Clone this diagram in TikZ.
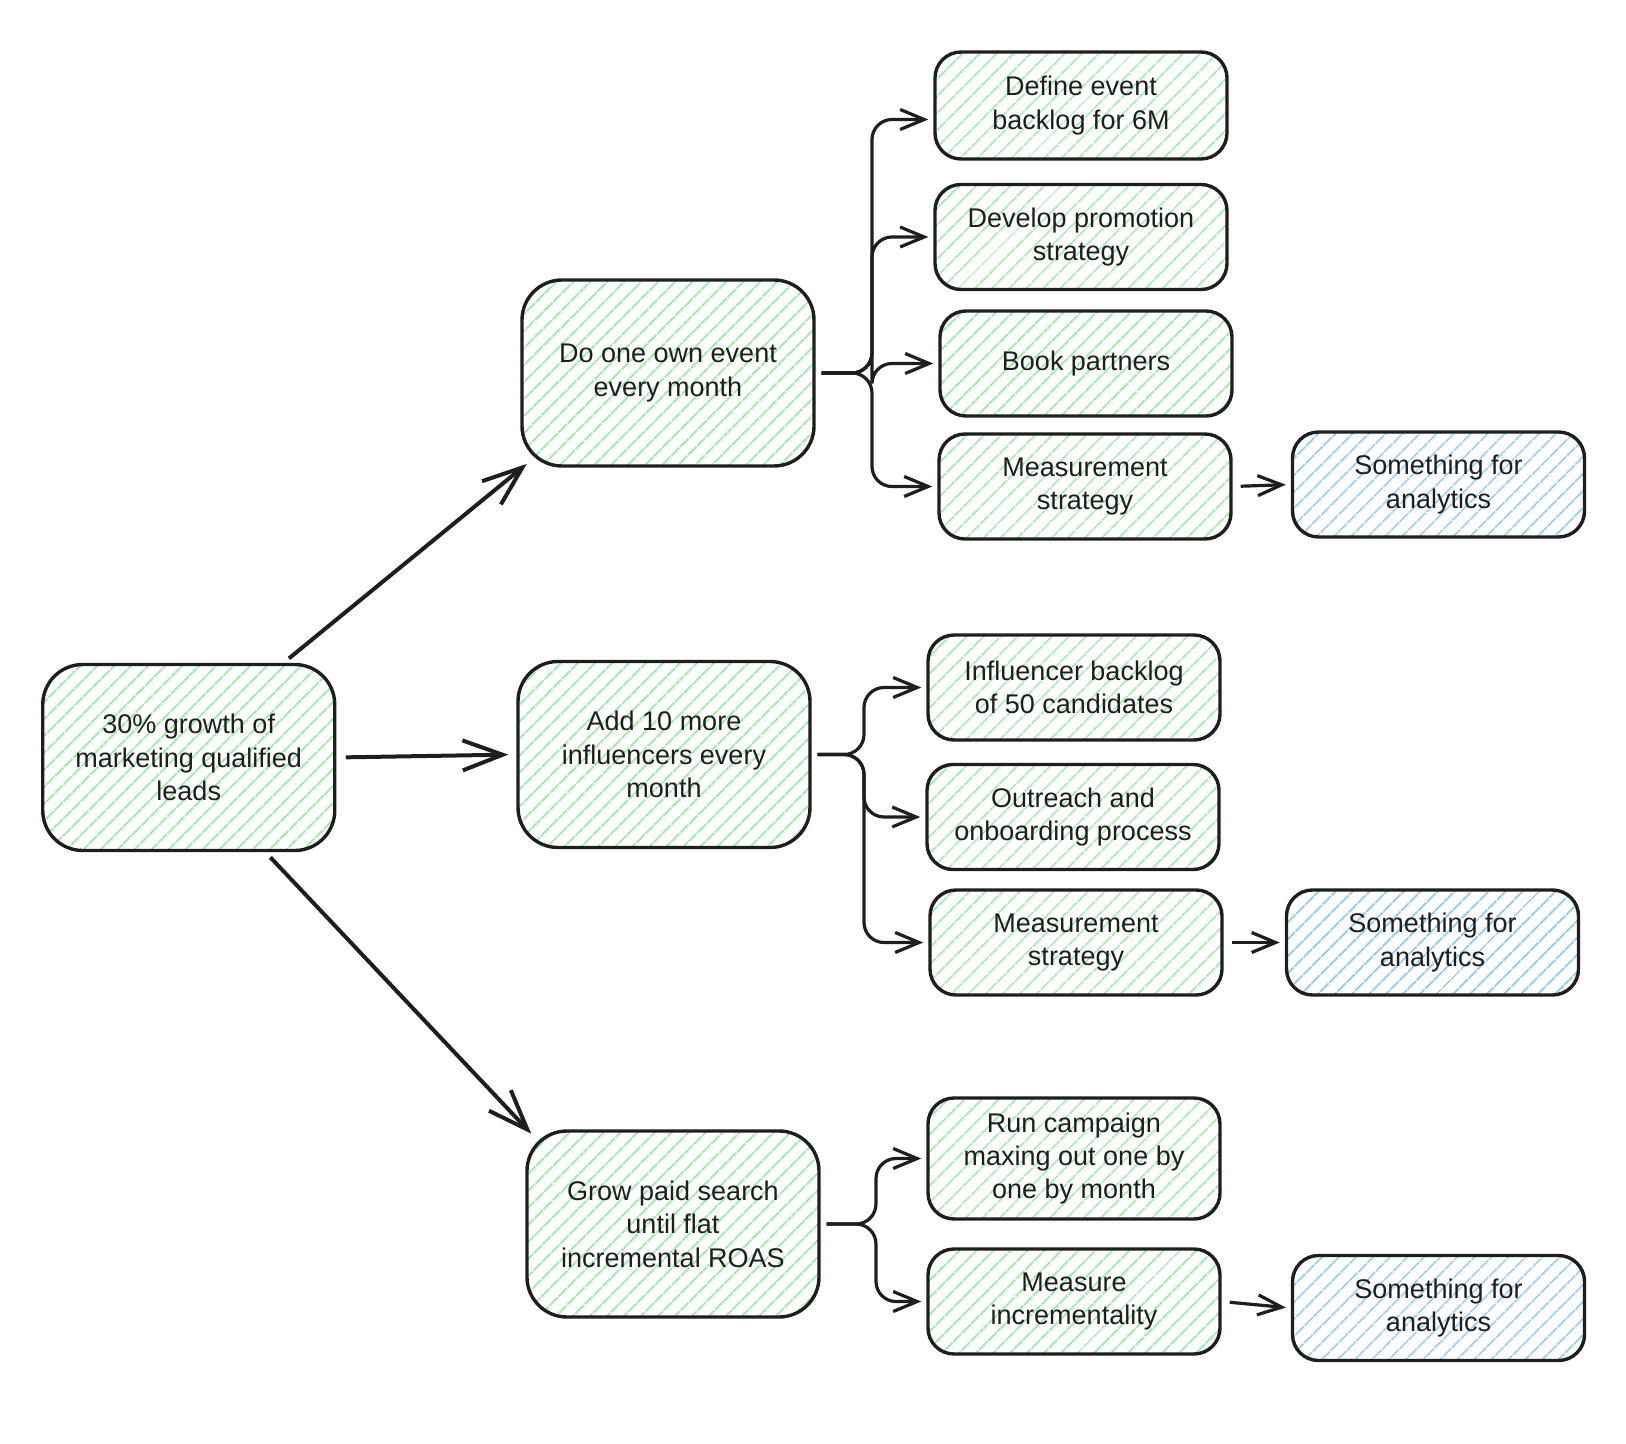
\documentclass[tikz,border=0pt]{standalone}
\usepackage{fontspec}
\setmainfont{Liberation Sans}
\usetikzlibrary{patterns.meta,arrows.meta,calc}
\definecolor{ink}{HTML}{1E1E1E}
\definecolor{hgreen}{HTML}{A6EDB0}
\definecolor{hblue}{HTML}{9CD0FA}
\tikzset{
  box/.style={draw=ink, line width=1.7pt, align=center, font=\fontsize{13.5}{16.7}\selectfont, text=ink},
  greenbox/.style={box, pattern={Lines[angle=45,distance=6.5pt,line width=1pt]}, pattern color=hgreen},
  bluebox/.style={box, pattern={Lines[angle=45,distance=6.5pt,line width=1pt]}, pattern color=hblue},
  bignode/.style={minimum width=146pt, minimum height=93pt, rounded corners=20pt},
  leaf/.style={minimum width=146pt, minimum height=52.5pt, rounded corners=13pt},
  mainarrow/.style={draw=ink, line width=2pt, -{Straight Barb[length=20pt,width=15pt,line width=2pt]}, shorten >=-3pt, shorten <=4pt},
  brancharrow/.style={draw=ink, line width=1.6pt, rounded corners=10pt, -{Straight Barb[length=12pt,width=10pt,line width=1.6pt]}, shorten >=2.5pt},
}
\begin{document}
\begin{tikzpicture}[x=0.5pt,y=-0.5pt]
\useasboundingbox (0,0) rectangle (1626,1444);
% main nodes
\node[greenbox,bignode] (root) at (188.75,757.5) {30\% growth of\\marketing qualified\\leads};
\node[greenbox,bignode] (ev) at (668,373) {Do one own event\\every month};
\node[greenbox,bignode] (infl) at (664,754.5) {Add 10 more\\influencers every\\month};
\node[greenbox,bignode] (paid) at (673,1224) {Grow paid search\\until flat\\incremental ROAS};
% leaves
\node[greenbox,leaf,minimum height=53.5pt] (d1) at (1081,105.5) {Define event\\backlog for 6M};
\node[greenbox,leaf] (d2) at (1081,237) {Develop promotion\\strategy};
\node[greenbox,leaf] (d3) at (1086,363.5) {Book partners};
\node[greenbox,leaf] (d4) at (1085,486.5) {Measurement\\strategy};
\node[bluebox,leaf] (a1) at (1438.5,484.5) {Something for\\analytics};
\node[greenbox,leaf] (i1) at (1074,687.5) {Influencer backlog\\of 50 candidates};
\node[greenbox,leaf] (i2) at (1073,817) {Outreach and\\onboarding process};
\node[greenbox,leaf] (i3) at (1076,942.5) {Measurement\\strategy};
\node[bluebox,leaf] (a2) at (1432.5,942.5) {Something for\\analytics};
\node[greenbox,leaf,minimum height=60.5pt] (p1) at (1074,1158.5) {Run campaign\\maxing out one by\\one by month};
\node[greenbox,leaf] (p2) at (1074,1301.5) {Measure\\incrementality};
\node[bluebox,leaf] (a3) at (1438.5,1308) {Something for\\analytics};
% root arrows
\draw[mainarrow] (root.45) -- (ev.213);
\draw[mainarrow, shorten >=4pt, shorten <=5pt] (root.east) -- (infl.west);
\draw[mainarrow] (root.-51) -- (paid.147);
% branches
\coordinate (jE) at (872,373);
\coordinate (jI) at (864,754.5);
\coordinate (jP) at (876,1224);
\draw[brancharrow] ([xshift=3pt]ev.east) -- (jE) |- ([yshift=-7pt]d1.west);
\foreach \t in {d2,d3,d4} { \draw[brancharrow] ([xshift=3pt]ev.east) -- (jE) |- (\t.west); }
\foreach \t in {i1,i2,i3} { \draw[brancharrow] ([xshift=3pt]infl.east) -- (jI) |- (\t.west); }
\foreach \t in {p1,p2} { \draw[brancharrow] ([xshift=3pt]paid.east) -- (jP) |- (\t.west); }
% analytics arrows
\draw[brancharrow, shorten <=4pt] (d4.east) -- (a1.west);
\draw[brancharrow, shorten <=4pt] (i3.east) -- (a2.west);
\draw[brancharrow, shorten <=4pt] (p2.east) -- (a3.west);
\end{tikzpicture}
\end{document}
